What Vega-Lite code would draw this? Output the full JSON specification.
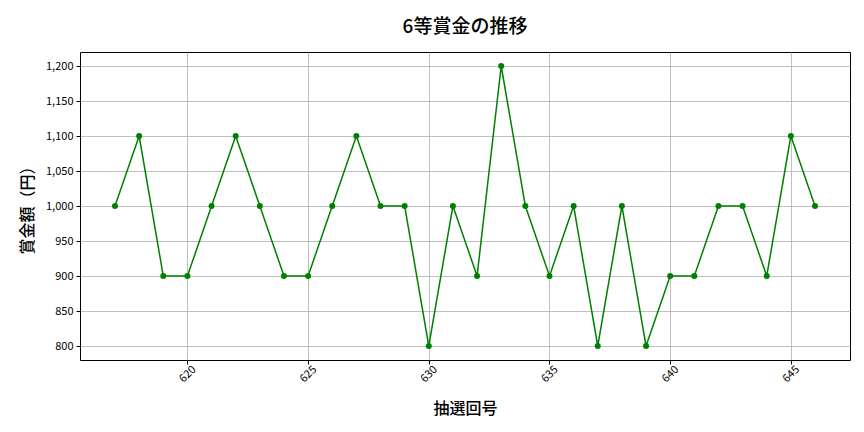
{
  "$schema": "https://vega.github.io/schema/vega-lite/v6.json",
  "autosize": "none",
  "width": 770,
  "height": 308,
  "padding": {"left": 80, "top": 52, "right": 14, "bottom": 72},
  "background": "white",
  "title": {
    "text": "6等賞金の推移",
    "fontSize": 19,
    "fontWeight": 500,
    "font": "Noto Sans CJK JP",
    "color": "#000000",
    "offset": 15
  },
  "data": {
    "values": [
      {"kai": 617, "prize": 1000},
      {"kai": 618, "prize": 1100},
      {"kai": 619, "prize": 900},
      {"kai": 620, "prize": 900},
      {"kai": 621, "prize": 1000},
      {"kai": 622, "prize": 1100},
      {"kai": 623, "prize": 1000},
      {"kai": 624, "prize": 900},
      {"kai": 625, "prize": 900},
      {"kai": 626, "prize": 1000},
      {"kai": 627, "prize": 1100},
      {"kai": 628, "prize": 1000},
      {"kai": 629, "prize": 1000},
      {"kai": 630, "prize": 800},
      {"kai": 631, "prize": 1000},
      {"kai": 632, "prize": 900},
      {"kai": 633, "prize": 1200},
      {"kai": 634, "prize": 1000},
      {"kai": 635, "prize": 900},
      {"kai": 636, "prize": 1000},
      {"kai": 637, "prize": 800},
      {"kai": 638, "prize": 1000},
      {"kai": 639, "prize": 800},
      {"kai": 640, "prize": 900},
      {"kai": 641, "prize": 900},
      {"kai": 642, "prize": 1000},
      {"kai": 643, "prize": 1000},
      {"kai": 644, "prize": 900},
      {"kai": 645, "prize": 1100},
      {"kai": 646, "prize": 1000}
    ]
  },
  "mark": {
    "type": "line",
    "color": "#008000",
    "strokeWidth": 1.5,
    "point": {"filled": true, "size": 36, "color": "#008000", "opacity": 1}
  },
  "encoding": {
    "x": {
      "field": "kai",
      "type": "quantitative",
      "title": "抽選回号",
      "scale": {"domain": [615.55, 647.45], "nice": false, "zero": false},
      "axis": {
        "values": [620, 625, 630, 635, 640, 645],
        "format": "d",
        "labelAngle": -45,
        "labelAlign": "center",
        "labelBaseline": "middle",
        "labelPadding": 10,
        "titlePadding": 16
      }
    },
    "y": {
      "field": "prize",
      "type": "quantitative",
      "title": "賞金額（円）",
      "scale": {"domain": [780, 1220], "nice": false, "zero": false},
      "axis": {
        "values": [800, 850, 900, 950, 1000, 1050, 1100, 1150, 1200],
        "format": ",d",
        "titlePadding": 10
      }
    }
  },
  "config": {
    "font": "Noto Sans CJK JP",
    "view": {"stroke": "#000000", "strokeWidth": 1},
    "axis": {
      "grid": true,
      "gridColor": "#b0b0b0",
      "gridWidth": 0.8,
      "domain": false,
      "tickColor": "#000000",
      "tickSize": 4,
      "labelFont": "Noto Sans CJK JP",
      "labelFontSize": 11,
      "labelColor": "#000000",
      "labelPadding": 3,
      "titleFont": "Noto Sans CJK JP",
      "titleFontSize": 16,
      "titleFontWeight": 500,
      "titleColor": "#000000"
    }
  }
}
